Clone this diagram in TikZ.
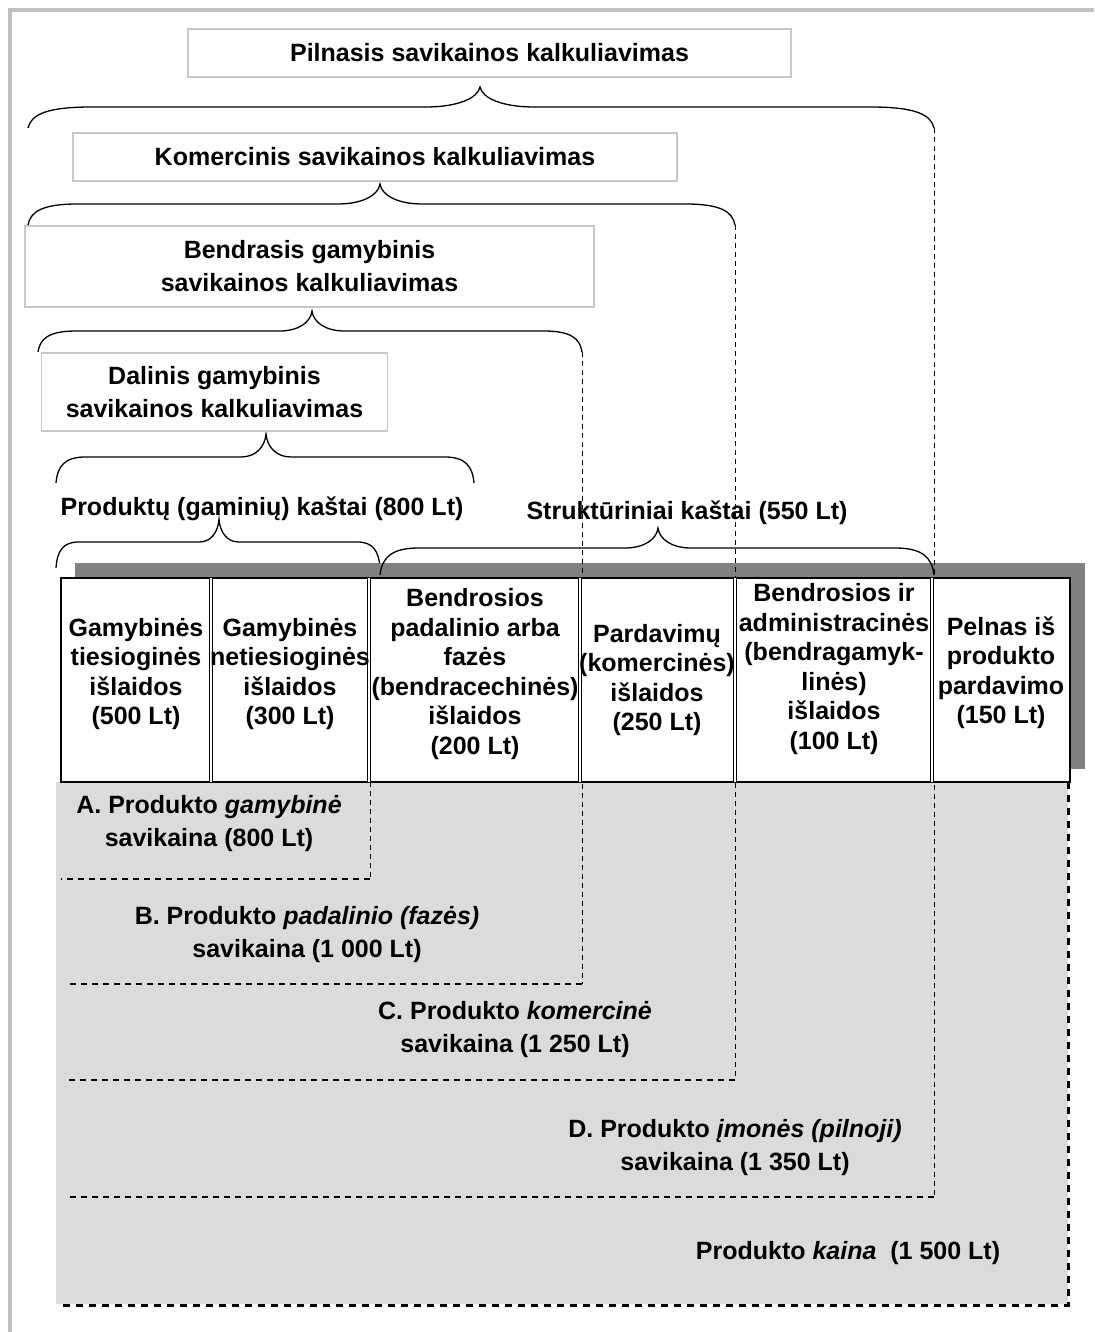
\documentclass[tikz,border=0pt]{standalone}
\usepackage{fontspec}
\setmainfont{Liberation Sans}
\usetikzlibrary{positioning, calc}

% curly brace: x1, x2, xtip, yend, ybar, ytip
\newcommand{\kbrace}[6]{%
  \pgfmathsetmacro{\brcw}{0.07*(#2-#1)}%
  \pgfmathsetmacro{\brtw}{0.06*(#2-#1)}%
  \draw[bracepath] (#1,#4) .. controls ({#1+0.05*\brcw},{#5+0.35*(#4-#5)}) and ({#1+0.3*\brcw},#5) .. ({#1+\brcw},#5)
    -- ({#3-\brtw},#5) .. controls ({#3-0.4*\brtw},#5) and ({#3-0.04*\brtw},{#5-0.45*(#5-#6)}) .. (#3,#6)
    .. controls ({#3+0.04*\brtw},{#5-0.45*(#5-#6)}) and ({#3+0.4*\brtw},#5) .. ({#3+\brtw},#5)
    -- ({#2-\brcw},#5) .. controls ({#2-0.3*\brcw},#5) and ({#2-0.05*\brcw},{#5+0.35*(#4-#5)}) .. (#2,#4);}

\begin{document}
\begin{tikzpicture}[x=1pt, y=-1pt,
    every node/.style={font=\fontsize{25}{29.5}\selectfont\bfseries, align=center, inner sep=0pt},
    wide/.style={font=\fontsize{25}{33}\selectfont\bfseries},
    topbox/.style={wide, draw=black!22, line width=1.6pt, fill=white},
    bracepath/.style={line width=1.3pt},
    divider/.style={double, double distance=2.2pt, line width=0.9pt},
    thinvert/.style={dash pattern=on 5pt off 4pt, line width=0.9pt},
    levelline/.style={dash pattern=on 6pt off 5pt, line width=1.8pt},
    priceline/.style={dash pattern=on 7pt off 6pt, line width=3pt}]
      \useasboundingbox (0,0) rectangle (1094,1332);

      % Frame
      \draw[line width=4pt, black!25] (10,1332) -- (10,10) -- (1094,10);

      % Braces
      \kbrace{28}{934}{480}{128}{107}{87}
      \kbrace{28}{735}{380}{225}{204}{184}
      \kbrace{38}{582}{312}{352}{331}{311}
      \kbrace{56}{474}{266}{483}{457}{434}
      \kbrace{56}{380}{219}{568}{542}{519}

      % Calculation methods
      \node[topbox, minimum width=603pt, minimum height=48pt] (full) at (489.5,53) {Pilnasis savikainos kalkuliavimas};
      \node[topbox, minimum width=604pt, minimum height=48pt] (comm) at (375,157) {Komercinis savikainos kalkuliavimas};
      \node[topbox, minimum width=569pt, minimum height=81pt] (gen) at (309.5,266.5) {Bendrasis gamybinis\\savikainos kalkuliavimas};
      \node[topbox, minimum width=346pt, minimum height=78pt] (part) at (214.5,392) {Dalinis gamybinis\\savikainos kalkuliavimas};

      \node (prodcost) at (262,509) {Produktų (gaminių) kaštai (800 Lt)};
      \node (structcost) at (687,513) {Struktūriniai kaštai (550 Lt)};

      % Cost levels
      \fill[black!14] (56,782) rectangle (1068,1304);
      \fill[black!50] (75,563) rectangle (1085,769);
      \kbrace{380}{934}{658}{575}{548}{528}

      \coordinate (gend) at (582,352);
      \coordinate (cend) at (735,225);
      \coordinate (fend) at (934,128);
      \coordinate (acorner) at (370,879);
      \coordinate (bcorner) at (582,984);
      \coordinate (ccorner) at (735,1080);
      \coordinate (dcorner) at (934,1197);
      \coordinate (pcorner) at (1068,1305);

      \draw[thinvert] (gend) -- (bcorner);
      \draw[thinvert] (cend) -- (ccorner);
      \draw[thinvert] (fend) -- (dcorner);
      \draw[thinvert] (370,782) -- (acorner);
      \draw[levelline] (acorner) -- (61,879);
      \draw[levelline] (bcorner) -- (66,984);
      \draw[levelline] (ccorner) -- (67,1080);
      \draw[levelline] (dcorner) -- (67,1197);
      \draw[priceline] (1068,782) -- (pcorner) -- (62,1305);

      % Expenses table
      \node[draw, fill=white, line width=1.5pt, minimum width=1009pt, minimum height=204pt] (tab) at (565.5,680) {};
      \foreach \x in {211,369,580,735,932}
        \draw[divider] (\x,578) -- (\x,782);

      \node (c1) at (136,674) {Gamybinės\\tiesioginės\\išlaidos\\(500 Lt)};
      \node (c2) at (290,674) {Gamybinės\\netiesioginės\\išlaidos\\(300 Lt)};
      \node (c3) at (475,674) {Bendrosios\\padalinio arba\\fazės\\(bendracechinės)\\išlaidos\\(200 Lt)};
      \node (c4) at (657,680) {Pardavimų\\(komercinės)\\išlaidos\\(250 Lt)};
      \node (c5) at (834,669) {Bendrosios ir\\administracinės\\(bendragamyk-\\linės)\\išlaidos\\(100 Lt)};
      \node (c6) at (1001,673) {Pelnas iš\\produkto\\pardavimo\\(150 Lt)};

      % Cost labels
      \node[wide] (lvla) at (209,824) {A. Produkto \textit{gamybinė}\\savikaina (800 Lt)};
      \node[wide] (lvlb) at (307,935) {B. Produkto \textit{padalinio (fazės)}\\savikaina (1 000 Lt)};
      \node[wide] (lvlc) at (515,1030) {C. Produkto \textit{komercinė}\\savikaina (1 250 Lt)};
      \node[wide] (lvld) at (735,1148) {D. Produkto \textit{įmonės (pilnoji)}\\savikaina (1 350 Lt)};
      \node (price) at (848,1253) {Produkto \textit{kaina}~ (1 500 Lt)};
    \end{tikzpicture}
\end{document}
